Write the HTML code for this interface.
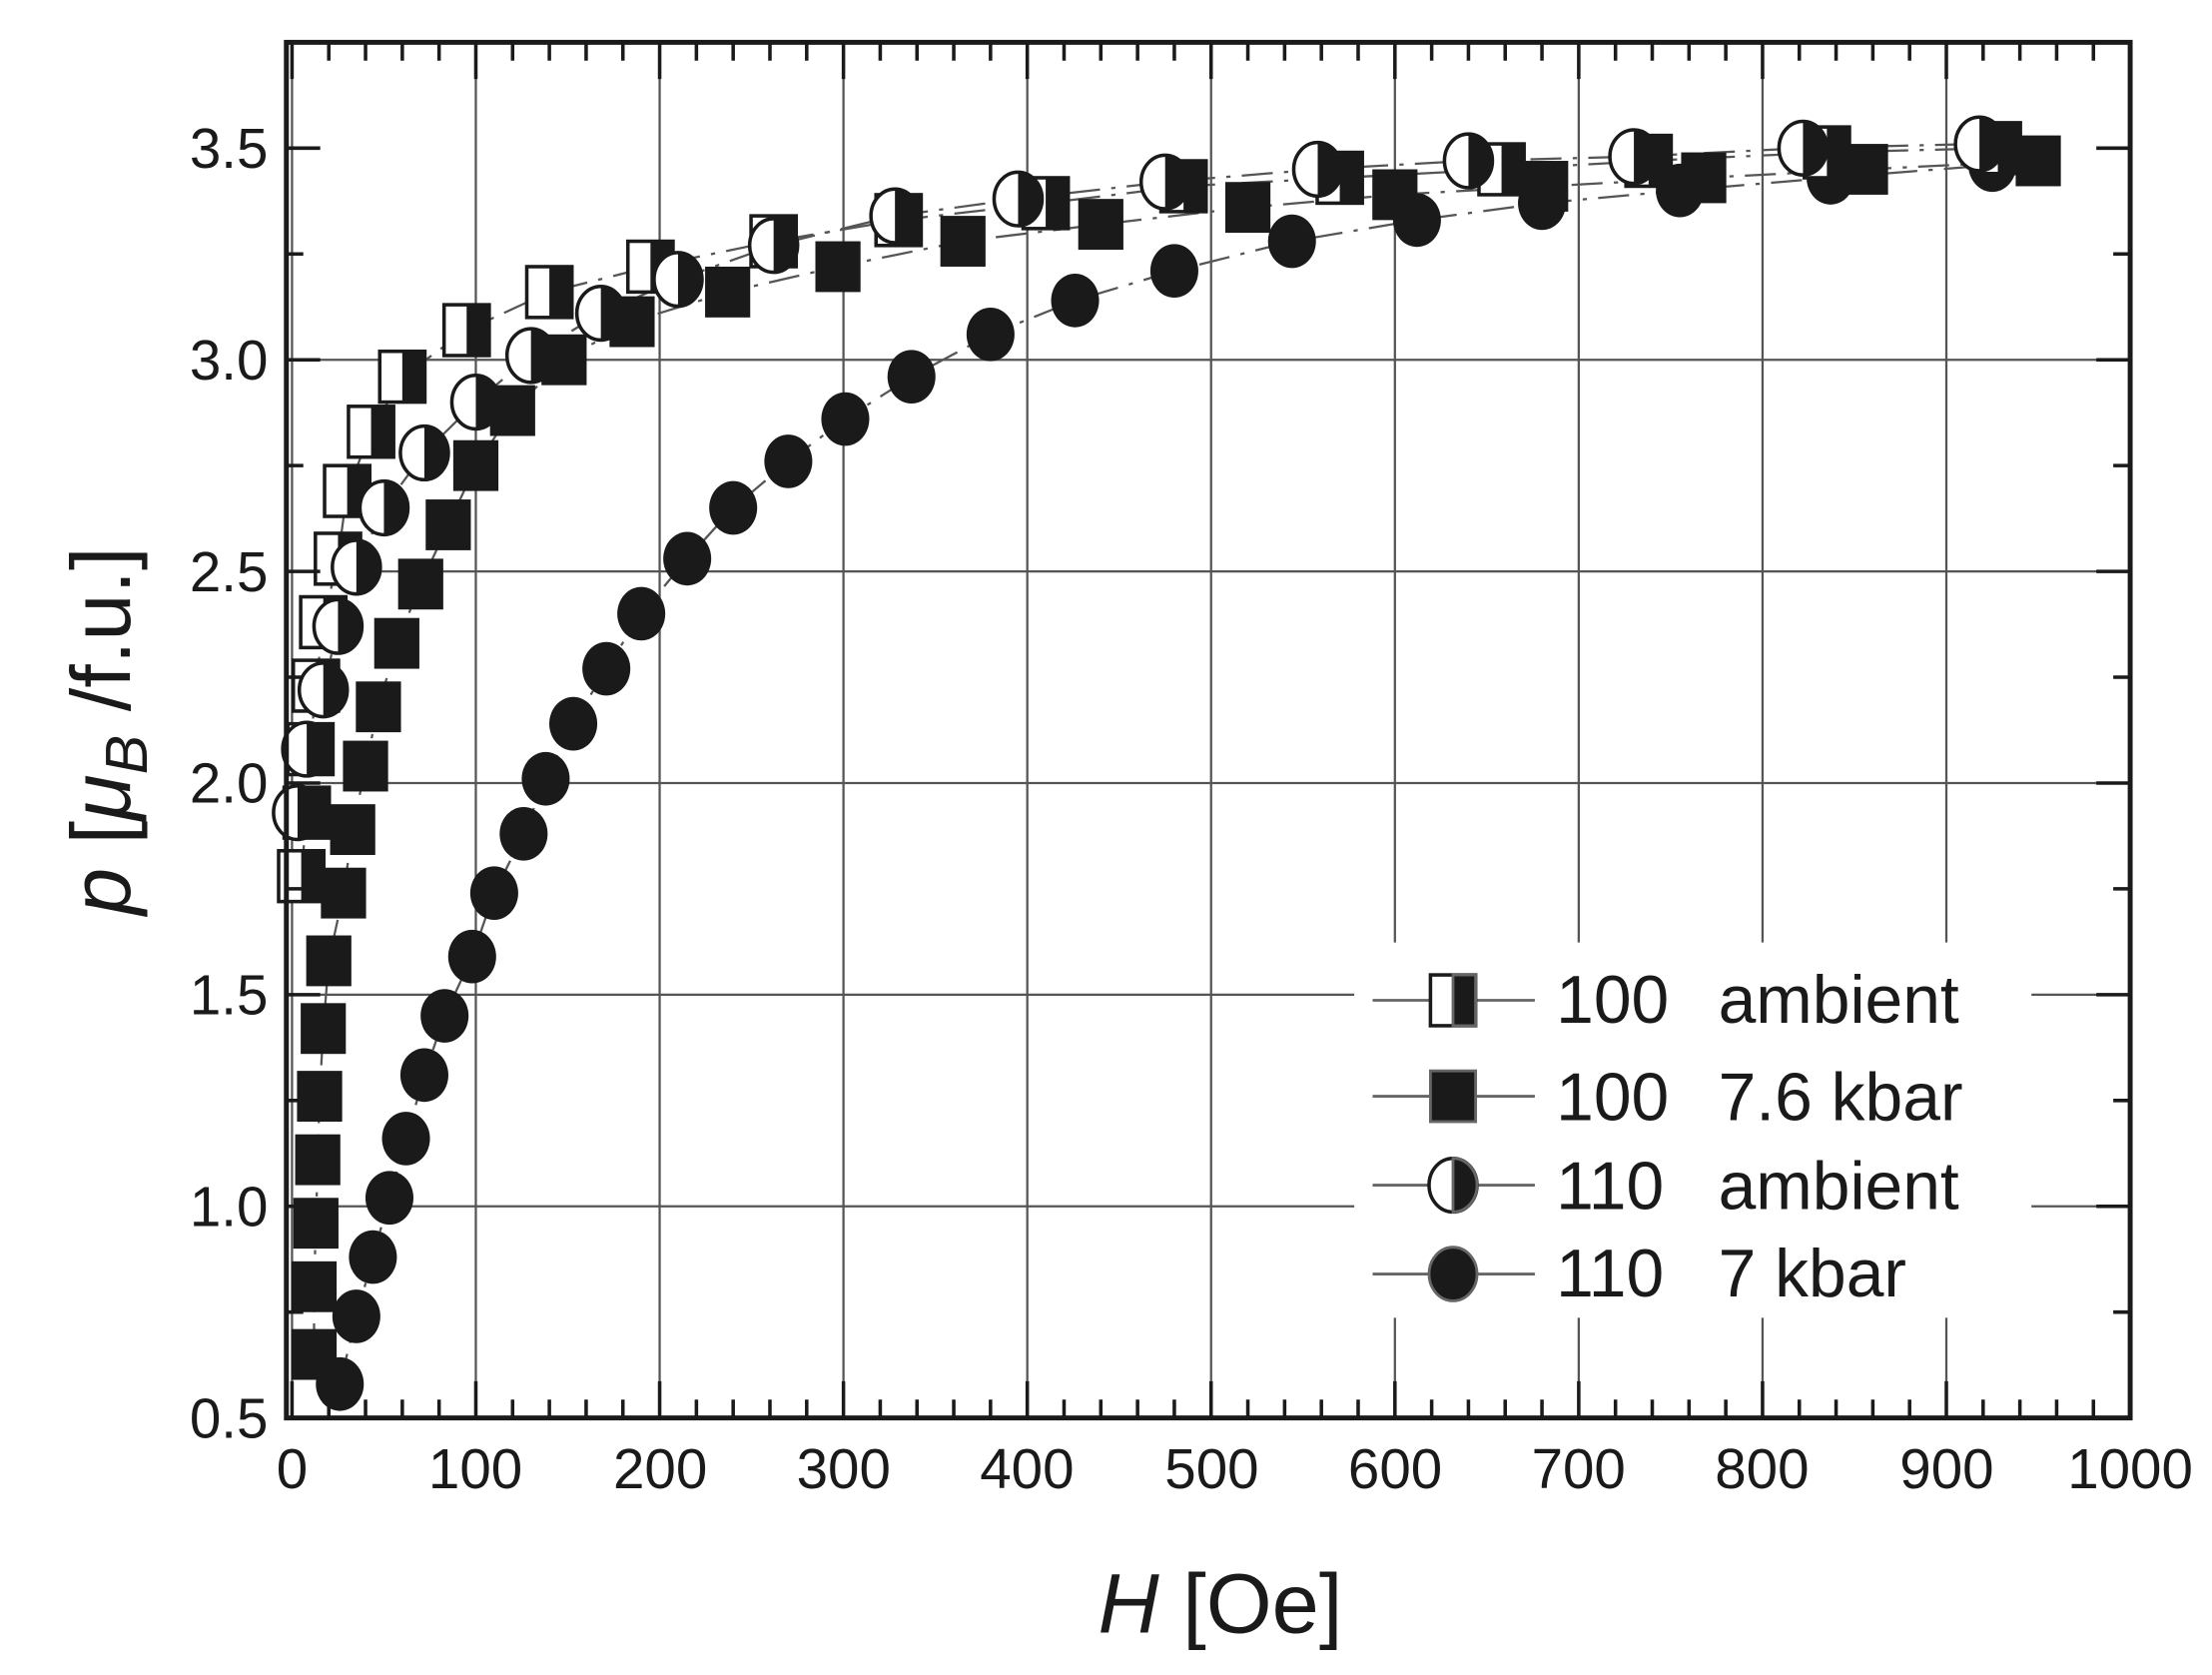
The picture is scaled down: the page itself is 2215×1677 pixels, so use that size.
<!DOCTYPE html>
<html><head><meta charset="utf-8"><style>
html,body{margin:0;padding:0;background:#fff;}
svg{display:block;}
text{font-family:"Liberation Sans",Arial,sans-serif;fill:#1a1a1a;}
</style></head><body>
<svg id="s" width="2215" height="1677" viewBox="0 0 1568 1187.2" preserveAspectRatio="none" xmlns="http://www.w3.org/2000/svg">
<rect x="0" y="0" width="1568" height="1187.2" fill="#fff"/>
<g id="grid" stroke="#555" stroke-width="1.6"></g>
<g id="lines" stroke="#555" stroke-width="1.6" fill="none" stroke-dasharray="22,8,3,8"></g>
<g id="marks"></g>
<rect x="960" y="668" width="480" height="266" fill="#fff"/>
<g id="frame" stroke="#1a1a1a" stroke-width="3.5" fill="none"></g>
<g font-size="40" text-anchor="end">
<text x="190" y="119">3.5</text><text x="190" y="269">3.0</text><text x="190" y="419">2.5</text>
<text x="190" y="569">2.0</text><text x="190" y="719">1.5</text><text x="190" y="869">1.0</text>
<text x="190" y="1019">0.5</text>
</g>
<g font-size="40" text-anchor="middle">
<text x="207" y="1055">0</text><text x="337" y="1055">100</text><text x="468" y="1055">200</text>
<text x="598" y="1055">300</text><text x="728" y="1055">400</text><text x="859" y="1055">500</text>
<text x="989" y="1055">600</text><text x="1119" y="1055">700</text><text x="1249" y="1055">800</text>
<text x="1380" y="1055">900</text><text x="1510" y="1055">1000</text>
</g>
<text x="865" y="1157" font-size="60" text-anchor="middle"><tspan font-style="italic">H</tspan> [Oe]</text>
<text transform="translate(92,518) rotate(-90)" font-size="60" text-anchor="middle"><tspan font-style="italic">p</tspan> [<tspan font-style="italic">μ</tspan><tspan font-style="italic" font-size="42" dy="12">B</tspan><tspan dy="-12"> /f.u.]</tspan></text>
<g id="leg" stroke="#666" stroke-width="2"></g>
<g font-size="48">
<text x="1103" y="725">100</text><text x="1218" y="725">ambient</text>
<text x="1103" y="794">100</text><text x="1218" y="794">7.6 kbar</text>
<text x="1103" y="857">110</text><text x="1218" y="857">ambient</text>
<text x="1103" y="919">110</text><text x="1218" y="919">7 kbar</text>
</g>
</svg>
<script>
var NS="http://www.w3.org/2000/svg";
function X(h){return 207+h*1.303;} function Y(p){return 1005-(p-0.5)*300;}
function el(tag,a,parent){var e=document.createElementNS(NS,tag);for(var k in a)e.setAttribute(k,a[k]);document.getElementById(parent).appendChild(e);return e;}
for(var i=1;i<10;i++){var x=X(i*100);el('line',{x1:x,y1:30,x2:x,y2:1005},'grid');}
el('line',{x1:207,y1:30,x2:207,y2:1005},'grid');
for(var j=1;j<6;j++){var y=Y(0.5+j*0.5);el('line',{x1:205,y1:y,x2:1510,y2:y},'grid');}
el('rect',{x:203,y:30,width:1307,height:975},'frame');
for(var h=0;h<=1000;h+=20){var x=X(h),L=(h%100==0)?26:13;
 el('line',{x1:x,y1:1005,x2:x,y2:1005-L,'stroke-width':2.5},'frame');
 el('line',{x1:x,y1:30,x2:x,y2:30+L,'stroke-width':2.5},'frame');}
for(var p=0.5;p<=3.76;p+=0.25){var y=Y(p),L=(Math.abs(p*2-Math.round(p*2))<0.01)?24:12;
 el('line',{x1:203,y1:y,x2:203+L,y2:y,'stroke-width':2.5},'frame');
 el('line',{x1:1510,y1:y,x2:1510-L,y2:y,'stroke-width':2.5},'frame');}
var W=16,Hh=18,R=17,RY=19;
function hsq(cx,cy,g){el('rect',{x:cx-W,y:cy-Hh,width:2*W,height:2*Hh,fill:'#fff',stroke:'#1a1a1a','stroke-width':2.5},g);
 el('rect',{x:cx,y:cy-Hh,width:W,height:2*Hh,fill:'#1a1a1a'},g);}
function fsq(cx,cy,g){el('rect',{x:cx-W,y:cy-Hh,width:2*W,height:2*Hh,fill:'#1a1a1a'},g);}
function hci(cx,cy,g){el('ellipse',{cx:cx,cy:cy,rx:R,ry:RY,fill:'#fff',stroke:'#1a1a1a','stroke-width':2.5},g);
 el('path',{d:'M'+cx+' '+(cy-RY)+' A'+R+' '+RY+' 0 0 1 '+cx+' '+(cy+RY)+' Z',fill:'#1a1a1a'},g);}
function fci(cx,cy,g){el('ellipse',{cx:cx,cy:cy,rx:R,ry:RY,fill:'#1a1a1a'},g);}
var S=[
 [fsq,[[12,0.65],[12,0.81],[13,0.96],[14,1.11],[15,1.26],[17,1.42],[20,1.58],[28,1.74],[33,1.89],[40,2.04],[47,2.18],[57,2.33],[70,2.47],[85,2.61],[100,2.75],[120,2.88],[148,3.0],[185,3.09],[237,3.16],[297,3.22],[365,3.28],[440,3.32],[520,3.36],[600,3.39],[682,3.41],[768,3.43],[856,3.45],[950,3.47]]],
 [fci,[[26,0.58],[35,0.74],[44,0.88],[53,1.02],[62,1.16],[72,1.31],[83,1.45],[98,1.59],[110,1.74],[126,1.88],[138,2.01],[153,2.14],[171,2.27],[190,2.40],[215,2.53],[240,2.65],[270,2.76],[301,2.86],[337,2.96],[380,3.06],[426,3.14],[480,3.21],[544,3.28],[612,3.33],[680,3.37],[755,3.40],[837,3.43],[925,3.46]]],
 [hsq,[[5,1.78],[8,1.93],[10,2.08],[13,2.23],[17,2.38],[25,2.53],[30,2.69],[43,2.83],[60,2.96],[95,3.07],[140,3.16],[195,3.22],[262,3.28],[330,3.33],[410,3.37],[485,3.41],[570,3.43],[658,3.45],[738,3.47],[835,3.49],[928,3.50]]],
 [hci,[[3,1.93],[8,2.08],[17,2.22],[25,2.37],[35,2.51],[50,2.65],[72,2.78],[100,2.90],[130,3.01],[168,3.11],[210,3.19],[262,3.27],[328,3.34],[395,3.38],[475,3.42],[558,3.45],[640,3.47],[730,3.48],[822,3.50],[918,3.51]]]
];
S.forEach(function(s){var d='';s[1].forEach(function(pt,i){d+=(i?'L':'M')+X(pt[0])+' '+Y(pt[1]);});el('path',{d:d},'lines');});
S.forEach(function(s){s[1].forEach(function(pt){s[0](X(pt[0]),Y(pt[1]),'marks');});});
[[hsq,709],[fsq,777],[hci,840],[fci,903]].forEach(function(r){
 el('line',{x1:973,y1:r[1],x2:1088,y2:r[1]},'leg'); r[0](1030,r[1],'leg');});
</script>
</body></html>
